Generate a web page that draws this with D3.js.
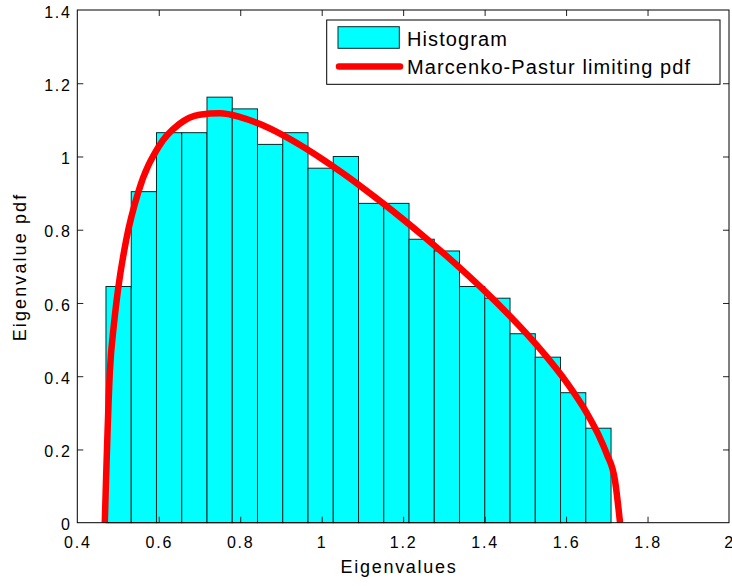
<!DOCTYPE html>
<html>
<head>
<meta charset="utf-8">
<script src="https://cdn.jsdelivr.net/npm/d3@7"></script>
<style>
  html, body { margin: 0; padding: 0; background: #fff; }
  svg { display: block; font-family: "Liberation Sans", Arial, sans-serif; }
</style>
</head>
<body>
<svg id="chart" width="732" height="586"></svg>
<script>
// Histogram bins (left edges) and their normalised heights
const binEdges = [0.4704, 0.5324, 0.5944, 0.6564, 0.7184, 0.7804, 0.8424, 0.9044, 0.9664, 1.0284,
                  1.0904, 1.1524, 1.2144, 1.2764, 1.3384, 1.4004, 1.4624, 1.5244, 1.5864, 1.6484, 1.7104];
const binHeights = [0.645, 0.904, 1.065, 1.065, 1.162, 1.130, 1.033, 1.065, 0.968, 1.000,
                    0.872, 0.872, 0.774, 0.742, 0.645, 0.613, 0.516, 0.452, 0.355, 0.258];

// Marcenko-Pastur limiting density, sampled points
const curveX = [0.4675, 0.48, 0.49, 0.50, 0.52, 0.55, 0.60, 0.65, 0.70, 0.75, 0.80, 0.85, 0.90, 0.95,
                1.00, 1.05, 1.10, 1.15, 1.20, 1.25, 1.30, 1.35, 1.40, 1.45, 1.50, 1.55, 1.60, 1.65,
                1.68, 1.70, 1.72, 1.7325];
const curveY = [0, 0.4141, 0.5425, 0.6366, 0.7719, 0.9036, 1.0273, 1.0882, 1.1139, 1.1179, 1.1077,
                1.0878, 1.0610, 1.0293, 0.9939, 0.9557, 0.9151, 0.8726, 0.8283, 0.7823, 0.7346,
                0.6849, 0.6330, 0.5782, 0.5198, 0.4563, 0.3853, 0.3012, 0.2389, 0.1872, 0.1156, 0];

const xTicks = [0.4, 0.6, 0.8, 1, 1.2, 1.4, 1.6, 1.8, 2];
const yTicks = [0, 0.2, 0.4, 0.6, 0.8, 1, 1.2, 1.4];
const legendLabels = ["Histogram", "Marcenko-Pastur limiting pdf"];

const svg = d3.select("#chart");
const plotL = 77.3, plotR = 729, plotT = 10, plotB = 522.7;

const x = d3.scaleLinear().domain([0.4, 2]).range([plotL, plotR]);
const y = d3.scaleLinear().domain([0, 1.4]).range([plotB, plotT]);

// Bars
const bins = binHeights.map((h, i) => ({ x0: binEdges[i], x1: binEdges[i + 1], h }));
svg.append("g").selectAll("rect").data(bins).join("rect")
  .attr("x", d => x(d.x0))
  .attr("y", d => y(d.h))
  .attr("width", d => x(d.x1) - x(d.x0))
  .attr("height", d => y(0) - y(d.h))
  .attr("fill", "#00ffff")
  .attr("stroke", "#0a2a2a")
  .attr("stroke-width", 1);

// Density curve
const pts = curveX.map((v, i) => [v, curveY[i]]);
svg.append("path")
  .datum(pts)
  .attr("d", d3.line().x(d => x(d[0])).y(d => y(d[1])).curve(d3.curveMonotoneX))
  .attr("fill", "none")
  .attr("stroke", "#ff0000")
  .attr("stroke-width", 6.5)
  .attr("stroke-linejoin", "round");

// Axes: ticks pointing inward on all four sides
const tickLen = 6;
const axB = svg.append("g").attr("transform", `translate(0,${plotB})`)
  .call(d3.axisBottom(x).tickValues(xTicks).tickSize(-tickLen).tickFormat(d3.format("")));
const axT = svg.append("g").attr("transform", `translate(0,${plotT})`)
  .call(d3.axisTop(x).tickValues(xTicks).tickSize(-tickLen).tickFormat(""));
const axL = svg.append("g").attr("transform", `translate(${plotL},0)`)
  .call(d3.axisLeft(y).tickValues(yTicks).tickSize(-tickLen).tickFormat(d3.format("")));
const axR = svg.append("g").attr("transform", `translate(${plotR},0)`)
  .call(d3.axisRight(y).tickValues(yTicks).tickSize(-tickLen).tickFormat(""));

[axB, axT, axL, axR].forEach(g => {
  g.select(".domain").remove();
  g.selectAll(".tick line").attr("stroke", "#222");
  g.attr("font-family", null).attr("font-size", null);
});
// skip ticks that would sit on the box corners
axB.selectAll(".tick line").filter(d => d === 0.4 || d === 2).remove();
axT.selectAll(".tick line").filter(d => d === 0.4 || d === 2).remove();
axL.selectAll(".tick line").filter(d => d === 0 || d === 1.4).remove();
axR.selectAll(".tick line").filter(d => d === 0 || d === 1.4).remove();

axB.selectAll(".tick text")
  .attr("y", 25).attr("dy", 0)
  .style("font-size", "16px").style("letter-spacing", "1.8px")
  .attr("fill", "#000");
axL.selectAll(".tick text")
  .attr("x", -5.5).attr("dy", "0.45em")
  .style("font-size", "16px").style("letter-spacing", "1.8px")
  .attr("fill", "#000");

// Plot box
svg.append("rect")
  .attr("x", plotL).attr("y", plotT)
  .attr("width", plotR - plotL).attr("height", plotB - plotT)
  .attr("fill", "none").attr("stroke", "#000").attr("stroke-width", 1);

// Axis titles
svg.append("text")
  .attr("x", 399).attr("y", 573)
  .attr("text-anchor", "middle")
  .style("font-size", "18px").style("letter-spacing", "1.7px")
  .text("Eigenvalues");
svg.append("text")
  .attr("transform", "translate(26,267) rotate(-90)")
  .attr("text-anchor", "middle")
  .style("font-size", "18px").style("letter-spacing", "2.1px")
  .text("Eigenvalue pdf");

// Legend
const lg = svg.append("g");
lg.append("rect")
  .attr("x", 326.7).attr("y", 20).attr("width", 393.3).attr("height", 64.3)
  .attr("fill", "#fff").attr("stroke", "#000").attr("stroke-width", 1);
lg.append("rect")
  .attr("x", 338).attr("y", 26.7).attr("width", 61.3).attr("height", 21.6)
  .attr("fill", "#00ffff").attr("stroke", "#0a2a2a").attr("stroke-width", 1);
lg.append("line")
  .attr("x1", 339).attr("x2", 400).attr("y1", 66.5).attr("y2", 66.5)
  .attr("stroke", "#ff0000").attr("stroke-width", 6.5).attr("stroke-linecap", "round");
lg.selectAll("text.lbl").data(legendLabels).join("text")
  .attr("class", "lbl")
  .attr("x", 407)
  .attr("y", (d, i) => i === 0 ? 45.5 : 74)
  .style("font-size", "20px").style("letter-spacing", "1.1px")
  .text(d => d);
</script>
</body>
</html>
